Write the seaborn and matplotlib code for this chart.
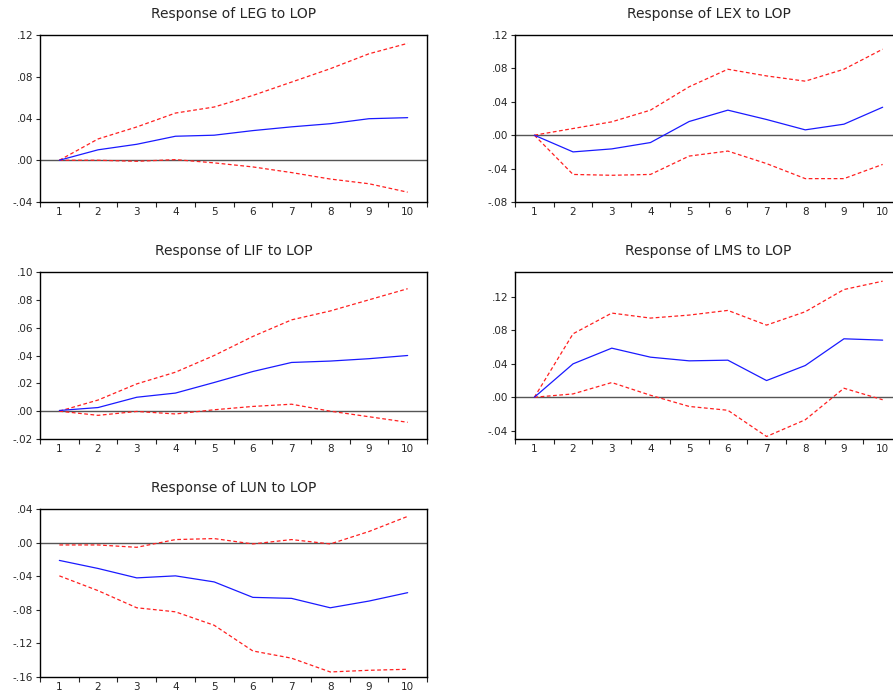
import numpy as np
import pandas as pd
import matplotlib
matplotlib.use("Agg")
import matplotlib.pyplot as plt
import seaborn as sns

periods = list(range(1, 11))

titles = ["Response of LEG to LOP", "Response of LEX to LOP",
          "Response of LIF to LOP", "Response of LMS to LOP",
          "Response of LUN to LOP"]

leg_resp = [0.0, 0.010, 0.0153, 0.023, 0.024, 0.0284, 0.032, 0.035, 0.0398, 0.0408]
leg_upper = [0.0, 0.0204, 0.0319, 0.0452, 0.051, 0.0621, 0.0749, 0.0877, 0.102, 0.112]
leg_lower = [0.0, 0.0, -0.001, 0.0006, -0.0025, -0.0064, -0.0118, -0.018, -0.0225, -0.0306]

lex_resp = [0.0, -0.020, -0.0164, -0.0088, 0.0164, 0.030, 0.0188, 0.0064, 0.0132, 0.0335]
lex_upper = [0.0, 0.008, 0.016, 0.030, 0.058, 0.079, 0.071, 0.0647, 0.079, 0.103]
lex_lower = [0.0, -0.047, -0.048, -0.047, -0.025, -0.019, -0.034, -0.052, -0.052, -0.035]

lif_resp = [0.0005, 0.0026, 0.010, 0.013, 0.0206, 0.0285, 0.035, 0.036, 0.0377, 0.040]
lif_upper = [0.0, 0.008, 0.0196, 0.028, 0.040, 0.0537, 0.0656, 0.072, 0.080, 0.088]
lif_lower = [0.0, -0.003, -0.0002, -0.002, 0.001, 0.0034, 0.005, 0.0, -0.004, -0.008]

lms_resp = [0.0, 0.040, 0.0588, 0.048, 0.0436, 0.0444, 0.020, 0.038, 0.070, 0.0684]
lms_upper = [0.0, 0.076, 0.1008, 0.0948, 0.0984, 0.104, 0.0864, 0.1024, 0.129, 0.139]
lms_lower = [0.0, 0.004, 0.0176, 0.0024, -0.011, -0.0156, -0.047, -0.027, 0.0108, -0.003]

lun_resp = [-0.0212, -0.0308, -0.042, -0.0396, -0.0468, -0.0652, -0.0664, -0.0776, -0.0696, -0.0596]
lun_upper = [-0.0028, -0.0028, -0.0056, 0.0036, 0.0048, -0.0016, 0.0036, -0.0016, 0.0132, 0.0312]
lun_lower = [-0.0396, -0.0572, -0.0776, -0.0824, -0.0984, -0.129, -0.1376, -0.154, -0.152, -0.1508]

leg_yticks = [-0.04, 0.00, 0.04, 0.08, 0.12]
lex_yticks = [-0.08, -0.04, 0.00, 0.04, 0.08, 0.12]
lif_yticks = [-0.02, 0.00, 0.02, 0.04, 0.06, 0.08, 0.10]
lms_yticks = [-0.04, 0.00, 0.04, 0.08, 0.12]
lun_yticks = [-0.16, -0.12, -0.08, -0.04, 0.00, 0.04]

series = [
    (leg_resp, leg_upper, leg_lower, leg_yticks, (-0.04, 0.12)),
    (lex_resp, lex_upper, lex_lower, lex_yticks, (-0.08, 0.12)),
    (lif_resp, lif_upper, lif_lower, lif_yticks, (-0.02, 0.10)),
    (lms_resp, lms_upper, lms_lower, lms_yticks, (-0.05, 0.15)),
    (lun_resp, lun_upper, lun_lower, lun_yticks, (-0.16, 0.04)),
]

W, H = 893, 693
# axes rectangles in pixels: left, top, width, height
rects = [
    (40, 35, 387, 167),
    (515, 35, 387, 167),
    (40, 272, 387, 167),
    (515, 272, 387, 167),
    (40, 509, 387, 168),
]

sns.set_style("ticks")
plt.rcParams['font.family'] = ['DejaVu Sans']

fig = plt.figure(figsize=(W / 100, H / 100), dpi=100)
fig.patch.set_facecolor("white")


def fmt(v):
    s = f"{v:.2f}"
    if s.startswith("0"):
        s = s[1:]
    elif s.startswith("-0"):
        s = "-" + s[2:]
    return s


for (resp, up, lo, yt, ylim), title, (l, t, w, h) in zip(series, titles, rects):
    ax = fig.add_axes([l / W, 1 - (t + h) / H, w / W, h / H])
    ax.axhline(0, color="#555555", lw=1.0, zorder=1)
    df = pd.DataFrame({"period": periods, "resp": resp, "upper": up, "lower": lo})
    sns.lineplot(data=df, x="period", y="upper", ax=ax, color="#ff2020",
                 lw=0.9, linestyle=(0, (3, 2)), zorder=3)
    sns.lineplot(data=df, x="period", y="lower", ax=ax, color="#ff2020",
                 lw=0.9, linestyle=(0, (3, 2)), zorder=3)
    sns.lineplot(data=df, x="period", y="resp", ax=ax, color="#1a1aff",
                 lw=0.9, zorder=4)
    ax.set_xlim(0.5, 10.5)
    ax.set_ylim(*ylim)
    ax.set_xticks(periods)
    ax.set_xticklabels([str(p) for p in periods], fontsize=7.5)
    ax.set_xticks([p + 0.5 for p in range(0, 11)], minor=True)
    ax.tick_params(axis="x", which="major", length=0, pad=3.5)
    ax.tick_params(axis="x", which="minor", length=3.5, width=0.8, direction="out")
    ax.set_yticks(yt)
    ax.set_yticklabels([fmt(v) for v in yt], fontsize=7.5)
    ax.tick_params(axis="y", length=3, width=0.8, direction="out", pad=2)
    ax.set_xlabel("")
    ax.set_ylabel("")
    for sp in ax.spines.values():
        sp.set_visible(True)
        sp.set_linewidth(1.0)
        sp.set_color("black")
    ax.set_title(title, fontsize=10, pad=12)

fig.savefig("out.png", dpi=100, facecolor="white")
